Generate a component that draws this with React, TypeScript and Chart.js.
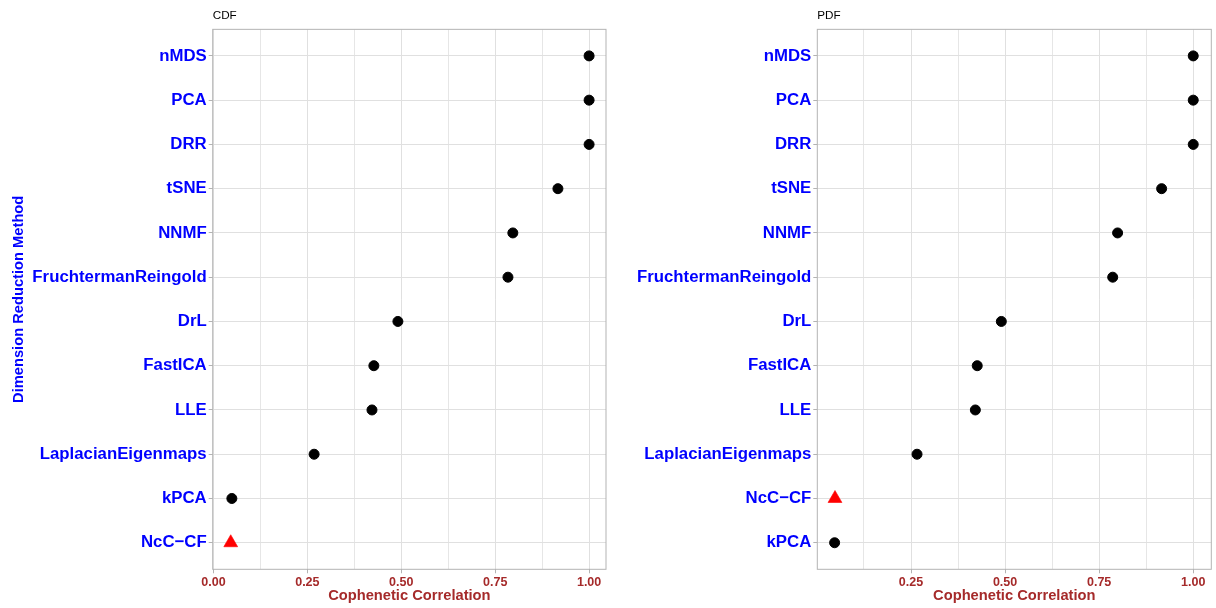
import React, { useEffect, useRef } from "react";
import { Chart, registerables } from "chart.js";

Chart.register(...registerables);

const FONT = "'Liberation Sans', Arial, Helvetica, sans-serif";

// Cophenetic correlation per dimension reduction method, CDF panel (top to bottom)
const cdfMethods = [
  "nMDS",
  "PCA",
  "DRR",
  "tSNE",
  "NNMF",
  "FruchtermanReingold",
  "DrL",
  "FastICA",
  "LLE",
  "LaplacianEigenmaps",
  "kPCA",
  "NcC\u2212CF",
];
const cdfScores = [1.0, 1.0, 1.0, 0.917, 0.797, 0.784, 0.491, 0.427, 0.422, 0.268, 0.049, 0.046];

// PDF panel (top to bottom)
const pdfMethods = [
  "nMDS",
  "PCA",
  "DRR",
  "tSNE",
  "NNMF",
  "FruchtermanReingold",
  "DrL",
  "FastICA",
  "LLE",
  "LaplacianEigenmaps",
  "NcC\u2212CF",
  "kPCA",
];
const pdfScores = [1.0, 1.0, 1.0, 0.916, 0.799, 0.786, 0.49, 0.426, 0.421, 0.266, 0.048, 0.047];

// The proposed method is drawn as a red triangle
const highlightedMethod = "NcC\u2212CF";

const majorTicks = [0, 0.25, 0.5, 0.75, 1.0];
const minorTicks = [0.125, 0.375, 0.625, 0.875];

const GRID = "#e0e0e0";
const FRAME = "#b3b3b3";
const BLUE = "#0000ff";
const BROWN = "#a52a2a";

const isMajor = (v: number) => majorTicks.some((m) => Math.abs(m - v) < 1e-9);

// Panel frame drawn on all four sides of the plotting area
const framePlugin = {
  id: "panelFrame",
  beforeDatasetsDraw(chart: any) {
    const { ctx, chartArea: a } = chart;
    ctx.save();
    ctx.strokeStyle = FRAME;
    ctx.lineWidth = 1;
    ctx.strokeRect(a.left, a.top, a.right - a.left, a.bottom - a.top);
    ctx.restore();
  },
};

type PanelProps = {
  title: string;
  methods: string[];
  scores: number[];
  xMin: number;
  xMax: number;
  showZero: boolean;
  yTitle?: string;
  yWidth: number;
  padRight: number;
};

function Panel(props: PanelProps) {
  const ref = useRef<HTMLCanvasElement | null>(null);

  useEffect(() => {
    if (!ref.current) return;
    const { title, methods, scores, xMin, xMax, showZero, yTitle, yWidth, padRight } = props;
    const xGrid = [...majorTicks, ...minorTicks]
      .filter((v) => showZero || v > 0)
      .sort((a, b) => a - b);
    const hl = (i: number) => methods[i] === highlightedMethod;

    const chart = new Chart(ref.current, {
      type: "scatter",
      data: {
        datasets: [
          {
            data: scores.map((x, i) => ({ x, y: i })),
            pointStyle: (c: any) => (hl(c.dataIndex) ? "triangle" : "circle"),
            pointRadius: (c: any) => (hl(c.dataIndex) ? 8 : 5),
            pointHoverRadius: (c: any) => (hl(c.dataIndex) ? 8 : 5),
            backgroundColor: (c: any) => (hl(c.dataIndex) ? "#ff0000" : "#000000"),
            borderColor: (c: any) => (hl(c.dataIndex) ? "#ff0000" : "#000000"),
            borderWidth: (c: any) => (hl(c.dataIndex) ? 0.6 : 1),
          } as any,
        ],
      },
      options: {
        responsive: false,
        animation: false,
        layout: { autoPadding: false, padding: { left: 0, right: padRight, top: 0, bottom: 0 } },
        plugins: {
          legend: { display: false },
          tooltip: { enabled: false },
          title: {
            display: true,
            text: title,
            align: "start",
            fullSize: false,
            color: "#000000",
            font: { family: FONT, size: 11.7, weight: "normal" },
            padding: { top: 8.3, bottom: 7 },
          },
        },
        scales: {
          x: {
            type: "linear",
            min: xMin,
            max: xMax,
            afterBuildTicks: (s: any) => {
              s.ticks = xGrid.map((v) => ({ value: v }));
            },
            afterFit: (s: any) => {
              s.height = 38.7;
              s.paddingLeft = 0;
              s.paddingRight = 0;
            },
            ticks: {
              autoSkip: false,
              maxRotation: 0,
              padding: 1.5,
              color: BROWN,
              font: { family: FONT, size: 12.5, weight: "bold" },
              callback: (v: any) => (isMajor(Number(v)) ? Number(v).toFixed(2) : ""),
            },
            grid: {
              color: GRID,
              lineWidth: (c: any) => (c.tick && isMajor(c.tick.value) ? 1 : 0.8),
              tickLength: 4,
              tickColor: (c: any) => (c.tick && isMajor(c.tick.value) ? FRAME : "rgba(0,0,0,0)"),
            },
            border: { display: false },
            title: {
              display: true,
              text: "Cophenetic Correlation",
              color: BROWN,
              font: { family: FONT, size: 14.7, weight: "bold" },
              padding: { top: 0, bottom: 3.5 },
            },
          },
          y: {
            type: "linear",
            min: -0.6,
            max: methods.length - 1 + 0.6,
            reverse: true,
            afterBuildTicks: (s: any) => {
              s.ticks = methods.map((_, i) => ({ value: i }));
            },
            afterFit: (s: any) => {
              s.width = yWidth;
              s.paddingTop = 0;
              s.paddingBottom = 0;
            },
            ticks: {
              autoSkip: false,
              padding: 2,
              color: BLUE,
              font: { family: FONT, size: 16.8, weight: "bold" },
              callback: (v: any) => methods[Math.round(Number(v))] ?? "",
            },
            grid: {
              color: GRID,
              lineWidth: 1,
              tickLength: 4,
              tickColor: FRAME,
            },
            border: { display: false },
            title: {
              display: !!yTitle,
              text: yTitle || "",
              color: BLUE,
              font: { family: FONT, size: 14.7, weight: "bold" },
              padding: { top: 10, bottom: 0 },
            },
          },
        },
      } as any,
      plugins: [framePlugin],
    });

    return () => chart.destroy();
  }, []);

  return <canvas ref={ref} width={608} height={608} style={{ display: "block" }} />;
}

export default function App() {
  return (
    <div
      style={{
        position: "absolute",
        left: 0,
        top: 0,
        width: 1216,
        height: 608,
        background: "#ffffff",
        display: "flex",
      }}
    >
      <Panel
        title="CDF"
        methods={cdfMethods}
        scores={cdfScores}
        xMin={-0.002}
        xMax={1.045}
        showZero={true}
        yTitle="Dimension Reduction Method"
        yWidth={212.7}
        padRight={2}
      />
      <Panel
        title="PDF"
        methods={pdfMethods}
        scores={pdfScores}
        xMin={0.001}
        xMax={1.048}
        showZero={false}
        yWidth={209.3}
        padRight={4.7}
      />
    </div>
  );
}
